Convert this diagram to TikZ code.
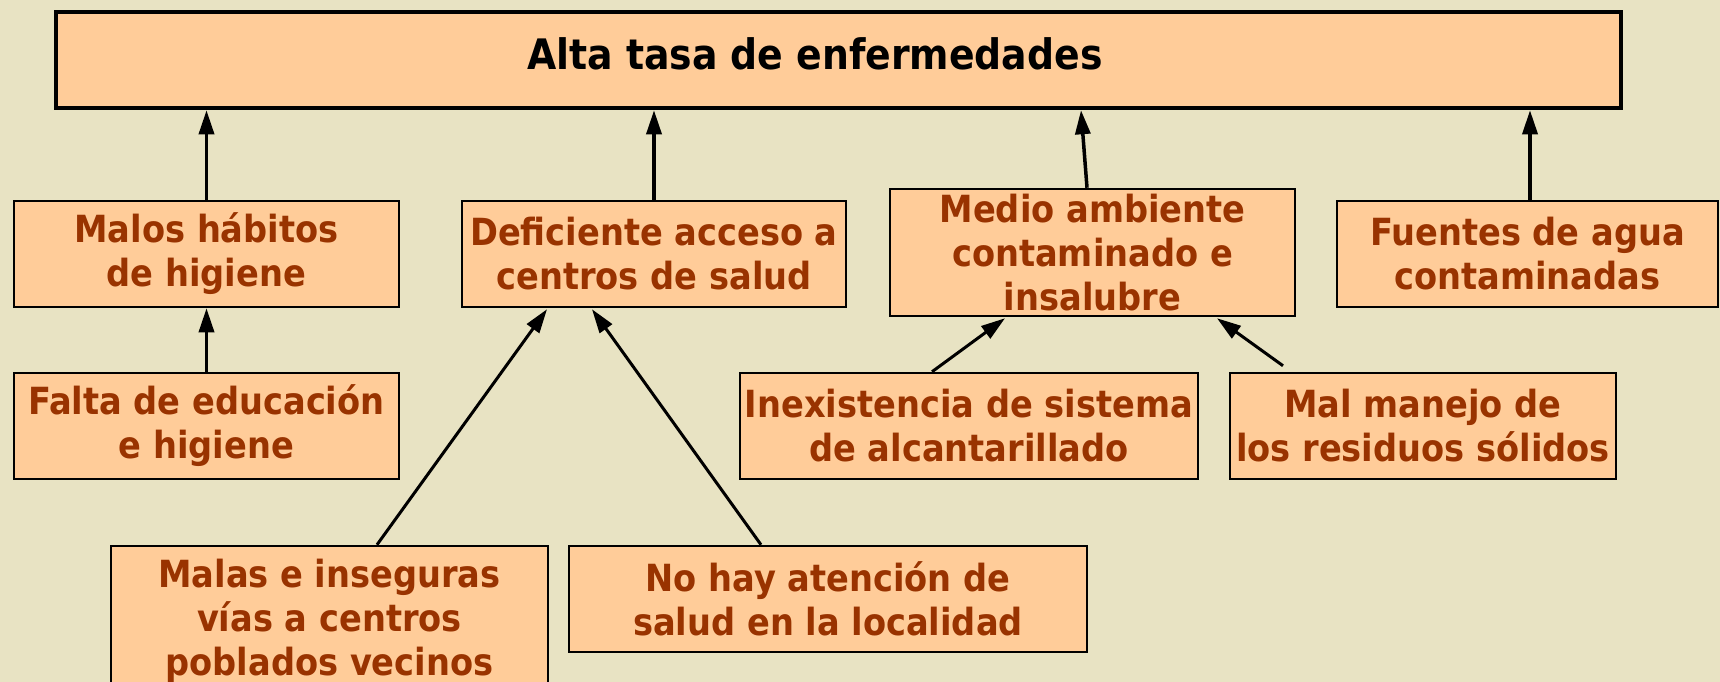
\documentclass[tikz,border=0pt]{standalone}
\usepackage{fontspec}
\newfontfamily\dvc{DejaVu Sans Condensed}
\usetikzlibrary{arrows.meta,calc}
\definecolor{bgc}{HTML}{E8E3C3}
\definecolor{peach}{HTML}{FFCC99}
\definecolor{brn}{HTML}{993300}
\begin{document}
\begin{tikzpicture}[x=1pt,y=-1pt,
  box/.style={draw=black, line width=2.5pt, fill=peach, inner sep=0pt, outer xsep=0pt, align=center,
    text=brn, font=\dvc\bfseries\fontsize{37.4}{44}\selectfont},
  topbox/.style={draw=black, line width=4.5pt, fill=peach, inner sep=0pt, outer xsep=0pt},
  titletext/.style={inner sep=0pt, text=black, font=\dvc\bfseries\fontsize{42}{50}\selectfont},
  arr/.style={line width=3.5pt, -{Triangle[length=24pt,width=15pt]}},
  darr/.style={line width=3pt, -{Triangle[length=24pt,width=15pt]}},
]
\useasboundingbox (0,0) rectangle (1720,682);
\clip (0,0) rectangle (1720,682);
\fill[bgc] (0,0) rectangle (1720,682);

\node[topbox, minimum width=1565pt, minimum height=96pt] (top) at (838.5,60) {};
\node[titletext, anchor=base] (title) at (815,70) {Alta tasa de enfermedades};

\node[box, minimum width=385pt, minimum height=106pt] (malos) at (206.5,254) {Malos hábitos\\de higiene};
\node[box, minimum width=384pt, minimum height=106pt] (defic) at (654,254) {Deficiente acceso a\\centros de salud};
\node[box, minimum width=405pt, minimum height=127pt] (medio) at (1092.5,252.5) {Medio ambiente\\contaminado e\\insalubre};
\node[box, minimum width=381pt, minimum height=106pt] (fuentes) at (1527.5,254) {Fuentes de agua\\contaminadas};

\node[box, minimum width=385pt, minimum height=106pt] (falta) at (206.5,426) {Falta de educación\\e higiene};
\node[box, minimum width=458pt, minimum height=106pt] (inex) at (969,426) {Inexistencia de sistema\\de alcantarillado};
\node[box, minimum width=386pt, minimum height=106pt] (malm) at (1423,426) {Mal manejo de\\los residuos sólidos};

\node[box, minimum width=437pt, minimum height=150pt] (malas) at (329.5,621) {Malas e inseguras\\vías a centros\\poblados vecinos};
\node[box, minimum width=518pt, minimum height=106pt] (nohay) at (828,599) {No hay atención de\\salud en la localidad};

\draw[arr] (malos.north) -- (malos.north |- top.south);
\draw[arr] (defic.north) -- (defic.north |- top.south);
\draw[arr] ($(medio.north)+(-5.5,0)$) -- ($(top.south west)+(1025,0)$);
\draw[arr] ($(fuentes.north)+(2.5,0)$) -- ($(top.south west)+(1474,0)$);
\draw[arr] (falta.north) -- (malos.south);

\draw[darr] ($(malas.north west)+(266,0)$) -- ($(defic.south west)+(85,1)$);
\draw[darr] ($(nohay.north west)+(192,0)$) -- ($(defic.south west)+(130,1)$);
\draw[darr] ($(inex.north west)+(192,0)$) -- ($(medio.south west)+(115,1)$);
\draw[darr] ($(malm.north west)+(53,-6)$) -- ($(medio.south west)+(327,1)$);
\end{tikzpicture}
\end{document}
